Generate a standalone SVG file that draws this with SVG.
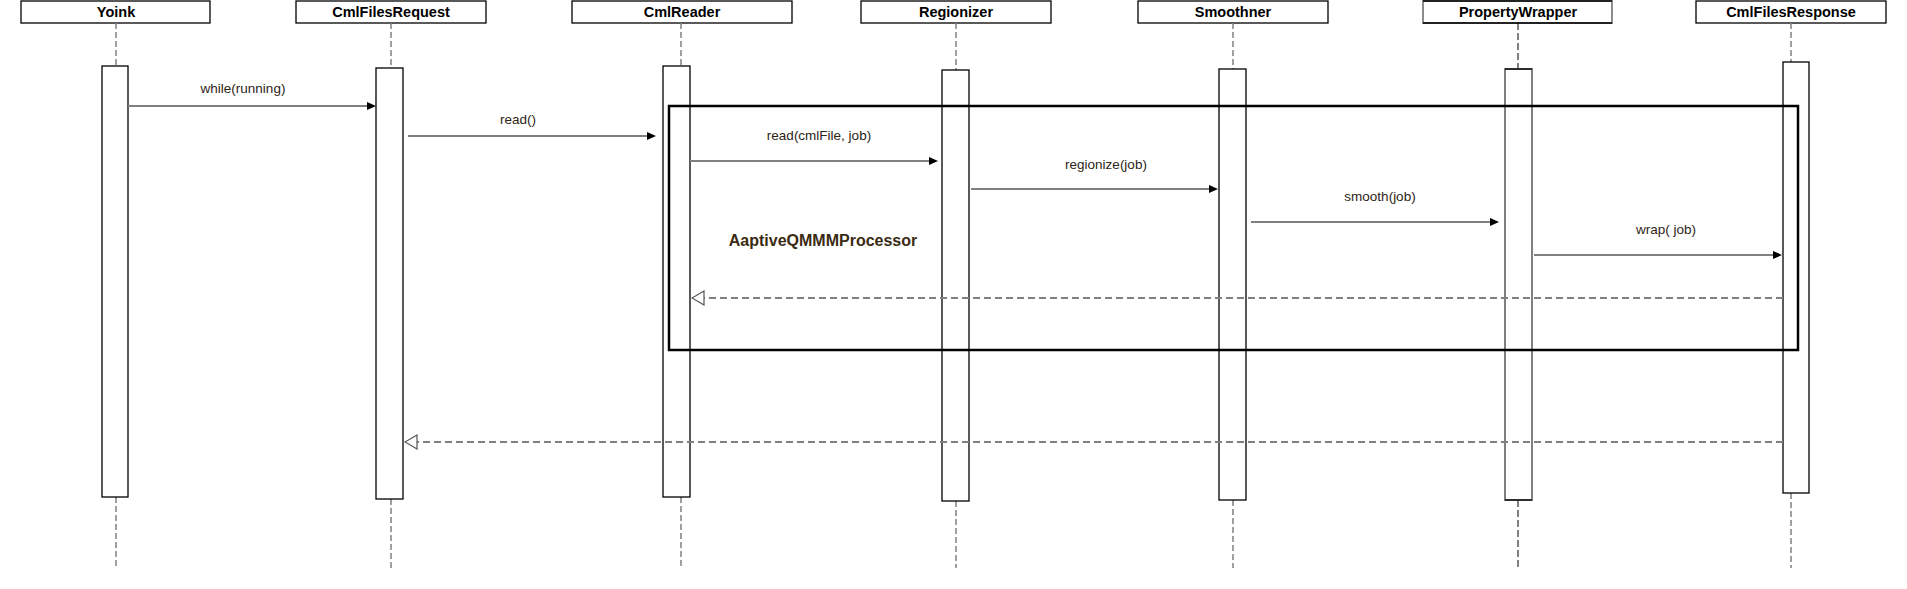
<svg xmlns="http://www.w3.org/2000/svg" width="1907" height="589" viewBox="0 0 1907 589">
<defs>
<style>
.hdr{fill:#fff;stroke:#000;stroke-width:1.3}
.hdrg{fill:#fff;stroke:#808080;stroke-width:1.8}
.edge{stroke:#000;stroke-width:1.3}
.ht{font-family:"Liberation Sans",Arial,sans-serif;font-weight:bold;font-size:14.5px;fill:#000;text-anchor:middle}
.life{stroke:#808080;stroke-width:1.5;stroke-dasharray:6,3;fill:none}
.lifek{stroke:#000;stroke-width:1;stroke-dasharray:7,3;fill:none}
.act{fill:#fff;stroke:#000;stroke-width:1.3}
.actg{fill:#fff;stroke:#808080;stroke-width:2}
.msg{stroke:#808080;stroke-width:2;fill:none}
.ret{stroke:#808080;stroke-width:2;stroke-dasharray:7,4;fill:none}
.lbl{font-family:"Liberation Sans",Arial,sans-serif;font-size:13.5px;fill:#2e2416;text-anchor:middle}
.frame{fill:none;stroke:#000;stroke-width:2.5}
.flbl{font-family:"Liberation Sans",Arial,sans-serif;font-weight:bold;font-size:16px;fill:#3b2b12;text-anchor:middle}
</style>
<marker id="fill" viewBox="0 0 10 10" refX="6.7" refY="5" markerWidth="9" markerHeight="9" markerUnits="userSpaceOnUse" orient="auto">
<path d="M0,0.5 L10,5 L0,9.5 z" fill="#000"/>
</marker>
<marker id="open" viewBox="-1 -1 14 16" refX="12" refY="7" markerWidth="14" markerHeight="16" markerUnits="userSpaceOnUse" orient="auto">
<path d="M0,0 L12,7 L0,14 z" fill="#fff" stroke="#555" stroke-width="1.2"/>
</marker>
</defs>
<rect width="1907" height="589" fill="#fff"/>

<g id="Yoink">
<rect class="hdr" x="21" y="1" width="189" height="22"/>
<text class="ht" x="116" y="17">Yoink</text>
<line class="life" x1="116" y1="23" x2="116" y2="66"/>
<line class="life" x1="116" y1="497" x2="116" y2="568"/>
<rect class="act" x="102" y="66" width="26" height="431"/>
</g>

<g id="CmlFilesRequest">
<rect class="hdr" x="296" y="1" width="190" height="22"/>
<text class="ht" x="391" y="17">CmlFilesRequest</text>
<line class="life" x1="391" y1="23" x2="391" y2="68"/>
<line class="life" x1="391" y1="499" x2="391" y2="568"/>
<rect class="act" x="376" y="68" width="27" height="431"/>
</g>

<g id="CmlReader">
<rect class="hdr" x="572" y="1" width="220" height="22"/>
<text class="ht" x="682" y="17">CmlReader</text>
<line class="life" x1="681" y1="23" x2="681" y2="66"/>
<line class="life" x1="681" y1="497" x2="681" y2="568"/>
<rect class="act" x="663" y="66" width="27" height="431"/>
</g>

<g id="Regionizer">
<rect class="hdr" x="861" y="1" width="190" height="22"/>
<text class="ht" x="956" y="17">Regionizer</text>
<line class="life" x1="956" y1="23" x2="956" y2="70"/>
<line class="life" x1="956" y1="501" x2="956" y2="568"/>
<rect class="act" x="942" y="70" width="27" height="431"/>
</g>

<g id="Smoothner">
<rect class="hdr" x="1138" y="1" width="190" height="22"/>
<text class="ht" x="1233" y="17">Smoothner</text>
<line class="life" x1="1233" y1="23" x2="1233" y2="69"/>
<line class="life" x1="1233" y1="500" x2="1233" y2="568"/>
<rect class="act" x="1219" y="69" width="27" height="431"/>
</g>

<g id="PropertyWrapper">
<rect class="hdrg" x="1423" y="1" width="189" height="22"/>
<line class="edge" x1="1423" y1="1" x2="1612" y2="1"/>
<line class="edge" x1="1423" y1="23" x2="1612" y2="23"/>
<text class="ht" x="1518" y="17">PropertyWrapper</text>
<line class="lifek" x1="1518" y1="23" x2="1518" y2="69"/>
<line class="lifek" x1="1518" y1="500" x2="1518" y2="568"/>
<rect class="actg" x="1505" y="69" width="27" height="431"/>
<line class="edge" x1="1505" y1="69" x2="1532" y2="69"/>
<line class="edge" x1="1505" y1="500" x2="1532" y2="500"/>
</g>

<g id="CmlFilesResponse">
<rect class="hdr" x="1696" y="1" width="190" height="22"/>
<text class="ht" x="1791" y="17">CmlFilesResponse</text>
<line class="life" x1="1791" y1="23" x2="1791" y2="62"/>
<line class="life" x1="1791" y1="493" x2="1791" y2="568"/>
<rect class="act" x="1783" y="62" width="26" height="431"/>
</g>

<g id="frame">
<rect class="frame" x="669" y="106" width="1129" height="244"/>
<text class="flbl" x="823" y="246">AaptiveQMMMProcessor</text>
</g>

<g id="connectors">
<line class="msg" x1="128" y1="106" x2="373" y2="106" marker-end="url(#fill)"/>
<text class="lbl" x="243" y="93">while(running)</text>
<line class="msg" x1="408" y1="136" x2="653" y2="136" marker-end="url(#fill)"/>
<text class="lbl" x="518" y="124">read()</text>
<line class="msg" x1="690" y1="161" x2="935" y2="161" marker-end="url(#fill)"/>
<text class="lbl" x="819" y="140">read(cmlFile, job)</text>
<line class="msg" x1="971" y1="189" x2="1215" y2="189" marker-end="url(#fill)"/>
<text class="lbl" x="1106" y="169">regionize(job)</text>
<line class="msg" x1="1251" y1="222" x2="1496" y2="222" marker-end="url(#fill)"/>
<text class="lbl" x="1380" y="201">smooth(job)</text>
<line class="msg" x1="1534" y1="255" x2="1779" y2="255" marker-end="url(#fill)"/>
<text class="lbl" x="1666" y="234">wrap( job)</text>
<line class="ret" x1="1783" y1="298" x2="692" y2="298" marker-end="url(#open)"/>
<line class="ret" x1="1783" y1="442" x2="405" y2="442" marker-end="url(#open)"/>
</g>
</svg>
